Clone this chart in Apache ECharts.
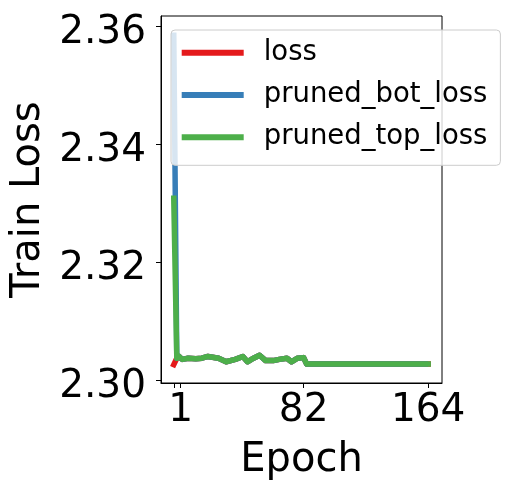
<!DOCTYPE html>
<html>
<head>
<meta charset="utf-8">
<script src="https://cdn.jsdelivr.net/npm/echarts@6/dist/echarts.min.js"></script>
<style>
  html, body { margin: 0; padding: 0; background: #fff; }
  #chart { width: 509px; height: 491px; }
</style>
</head>
<body>
<div id="chart"></div>
<script>
// x positions (epoch units)
var epochs = [-3.5, -1.5, 0, 2, 6, 11, 15, 19, 26, 31, 37, 42, 45, 49, 53, 57, 62, 66, 71, 74, 78, 82, 84, 100, 120, 140, 164];

var loss = [2.3026, 2.3037, 2.3040, 2.3035, 2.3037, 2.3036, 2.3037, 2.3040, 2.3037, 2.3031, 2.3035, 2.3040, 2.3031, 2.3037,
  2.3042, 2.3033, 2.3033, 2.3035, 2.3037, 2.3031, 2.3037, 2.3038, 2.3027, 2.3027, 2.3027, 2.3027, 2.3027];
var prunedBotLoss = [2.3589, 2.3037, 2.3040, 2.3035, 2.3037, 2.3036, 2.3037, 2.3040, 2.3037, 2.3031, 2.3035, 2.3040, 2.3031, 2.3037,
  2.3042, 2.3033, 2.3033, 2.3035, 2.3037, 2.3031, 2.3037, 2.3038, 2.3027, 2.3027, 2.3027, 2.3027, 2.3027];
var prunedTopLoss = [2.3308, 2.3037, 2.3040, 2.3035, 2.3037, 2.3036, 2.3037, 2.3040, 2.3037, 2.3031, 2.3035, 2.3040, 2.3031, 2.3037,
  2.3042, 2.3033, 2.3033, 2.3035, 2.3037, 2.3031, 2.3037, 2.3038, 2.3027, 2.3027, 2.3027, 2.3027, 2.3027];

var xTicks = [-3.3, 1, 82, 164];
var xTickLabels = [1, 82, 164];
var yTicks = [2.30, 2.32, 2.34, 2.36];

var seriesNames = ["loss", "pruned_bot_loss", "pruned_top_loss"];
var colors = ["#e41a1c", "#377eb8", "#4daf4a"];
var caps = ["square", "butt", "square"];
var seriesValues = [loss, prunedBotLoss, prunedTopLoss];

var font = "DejaVu Sans";

function pairs(values) {
  return epochs.map(function (e, i) {
    return [e, values[i]];
  });
}

var chart = echarts.init(document.getElementById("chart"));

var option = {
  animation: false,
  backgroundColor: "#fff",
  textStyle: { fontFamily: font },
  grid: {
    left: 161,
    top: 16,
    right: 67,
    bottom: 108,
    show: true,
    borderColor: "#000",
    borderWidth: 1,
    backgroundColor: "transparent",
  },
  legend: {
    orient: "vertical",
    left: 171,
    top: 30,
    selectedMode: false,
    data: seriesNames,
    icon: "rect",
    itemWidth: 62,
    itemHeight: 6,
    itemGap: 10.3,
    padding: [6.7, 13, 12, 10.7],
    backgroundColor: "rgba(255,255,255,0.8)",
    borderColor: "#cccccc",
    borderWidth: 1,
    borderRadius: 4,
    textStyle: {
      fontFamily: font,
      fontSize: 27.5,
      lineHeight: 32,
      color: "#000",
      padding: [0, 0, 0, 15],
    },
  },
  xAxis: {
    type: "value",
    min: -11.9,
    max: 173.1,
    name: "Epoch",
    nameLocation: "middle",
    nameGap: 58,
    nameTextStyle: { fontFamily: font, fontSize: 40, color: "#000" },
    axisLine: { show: true, onZero: false, lineStyle: { color: "#000", width: 1 } },
    axisTick: {
      show: true,
      length: 5,
      customValues: xTicks,
      lineStyle: { color: "#000", width: 1 },
    },
    axisLabel: {
      customValues: xTickLabels,
      fontFamily: font,
      fontSize: 39,
      color: "#000",
      margin: 8,
    },
    splitLine: { show: false },
  },
  yAxis: {
    type: "value",
    min: 2.2995,
    max: 2.3617,
    name: "Train Loss",
    nameLocation: "middle",
    nameGap: 94,
    nameTextStyle: { fontFamily: font, fontSize: 40, color: "#000" },
    axisLine: { show: true, onZero: false, lineStyle: { color: "#000", width: 1 } },
    axisTick: {
      show: true,
      length: 5,
      customValues: yTicks,
      lineStyle: { color: "#000", width: 1 },
    },
    axisLabel: {
      customValues: yTicks,
      color: "#000",
      margin: 15,
      formatter: function (v) {
        return "{t|" + v.toFixed(2) + "}";
      },
      rich: {
        t: {
          fontFamily: font,
          fontSize: 39,
          color: "#000",
          padding: [14, 0, 0, 0],
        },
      },
    },
    splitLine: { show: false },
  },
  series: seriesNames.map(function (name, k) {
    return {
      name: name,
      type: "line",
      data: pairs(seriesValues[k]),
      showSymbol: false,
      symbol: "none",
      color: colors[k],
      lineStyle: { color: colors[k], width: 5.5, cap: caps[k], join: "round" },
    };
  }),
};

chart.setOption(option, true);
</script>
</body>
</html>
